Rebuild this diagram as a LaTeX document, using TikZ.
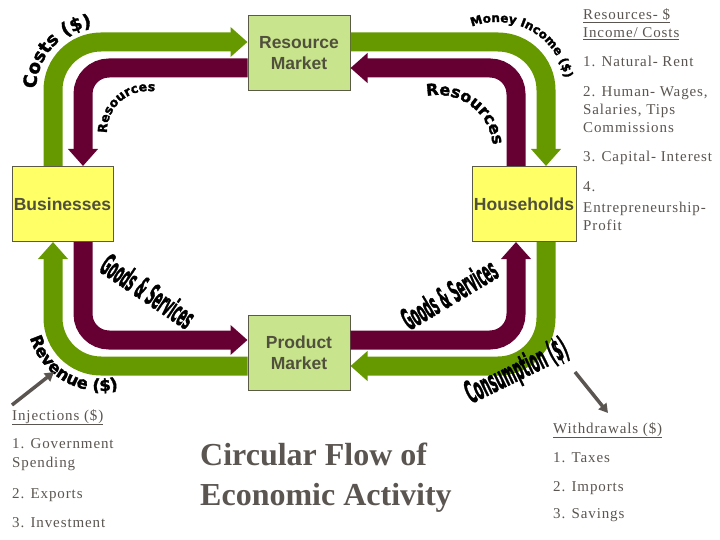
\documentclass[tikz,border=0pt]{standalone}
\usepackage{fontspec}
\setmainfont{Liberation Serif}
\newfontfamily\listfont{Liberation Serif}[LetterSpace=6]
\newfontfamily\boxfont{Liberation Sans}
\newfontfamily\artfont{DejaVu Sans}[BoldFeatures={FakeBold=2}]
\usepackage{tikz}
\usetikzlibrary{arrows.meta, positioning, decorations.text}

\definecolor{flowgreen}{RGB}{102,153,0}
\definecolor{flowpurple}{RGB}{102,0,51}
\definecolor{mktfill}{RGB}{200,228,140}
\definecolor{firmfill}{RGB}{255,255,102}
\definecolor{boxline}{RGB}{90,90,70}
\definecolor{boxtext}{RGB}{80,80,60}
\definecolor{notegray}{RGB}{90,85,80}

\begin{document}
\begin{tikzpicture}[
  x=1pt, y=1pt,
  mktbox/.style={draw=boxline, line width=1pt, fill=mktfill,
                 minimum width=102pt, minimum height=75pt, inner sep=0pt,
                 align=center, text=boxtext,
                 font=\boxfont\bfseries\fontsize{17.5}{21}\selectfont},
  agentbox/.style={mktbox, fill=firmfill, minimum width=101pt},
  greenflow/.style={draw=flowgreen, line width=19pt, rounded corners=48pt,
                    -{Triangle[width=29pt,length=17pt]}},
  purpleflow/.style={draw=flowpurple, line width=19pt, rounded corners=26pt,
                     -{Triangle[width=29pt,length=17pt]}},
  note/.style={anchor=base west, inner sep=0pt, text=notegray,
               font=\listfont\fontsize{15}{18}\selectfont},
  curvetxt/.style={decorate, decoration={text along path, text align=center, text={#1}}},
  art/.style={inner sep=0pt, font=\artfont\bfseries\fontsize{30}{30}\selectfont},
  pointer/.style={draw=notegray, line width=3.5pt, -{Triangle[width=10pt,length=9pt]}}
]
\useasboundingbox (0,0) rectangle (720,-540);

% Markets and agents
\node[mktbox] (rmkt) at (299,-53.5) {Resource\\Market};
\node[mktbox] (pmkt) at (299,-353) {Product\\Market};
\node[agentbox] (biz) at (62.5,-204) {Businesses};
\node[agentbox, minimum width=104pt] (hh) at (524,-204) {Households};

% Money flows
\draw[greenflow] ([xshift=-9.5pt]biz.north) |- ([yshift=11.5pt]rmkt.west);
\draw[greenflow] ([yshift=11.5pt]rmkt.east) -| ([xshift=22pt]hh.north);
\draw[greenflow] ([xshift=22pt]hh.south) |- ([yshift=-13pt]pmkt.east);
\draw[greenflow] ([yshift=-13pt]pmkt.west) -| ([xshift=-9.5pt]biz.south);

% Real flows
\draw[purpleflow] ([xshift=-8pt]hh.north) |- ([yshift=-14.5pt]rmkt.east);
\draw[purpleflow] ([yshift=-14.5pt]rmkt.west) -| ([xshift=20.5pt]biz.north);
\draw[purpleflow] ([xshift=20.5pt]biz.south) |- ([yshift=13pt]pmkt.west);
\draw[purpleflow] ([yshift=13pt]pmkt.east) -| ([xshift=-8pt]hh.south);

% Flow labels
\path[curvetxt={|\artfont\bfseries\fontsize{18}{18}\selectfont|Costs ({\$})}]
  (101,-91) ++(188:65) arc[start angle=188, end angle=88, radius=65];
\path[curvetxt={|\artfont\bfseries\fontsize{12.5}{12.5}\selectfont|Resources}]
  (148,-132) ++(188:41) arc[start angle=188, end angle=74, radius=41];
\path[curvetxt={|\artfont\bfseries\fontsize{12}{12}\selectfont|Money Income ({\$})}]
  (497,-91) ++(118:69) arc[start angle=118, end angle=4, radius=69];
\path[curvetxt={|\artfont\bfseries\fontsize{16}{16}\selectfont|Resources}]
  (438,-150) ++(108:55) arc[start angle=108, end angle=-1, radius=55];
\path[curvetxt={|\artfont\bfseries\fontsize{16.5}{16.5}\selectfont|Revenue ({\$})}]
  (101,-317) ++(188:74) arc[start angle=188, end angle=292, radius=74];

\node[rotate=-34, art] (gsleft) at (148,-291) {\scalebox{0.36}[1]{Goods \& Services}};
\node[rotate=31, art] (gsright) at (449,-294) {\scalebox{0.36}[1]{Goods \& Services}};
\node[rotate=26, art, font=\artfont\bfseries\fontsize{31}{31}\selectfont] (cons)
  at (517,-372) {\scalebox{0.38}[1]{Consumption (\$)}};

% Injection / withdrawal pointers
\coordinate (injtail) at (12,-405);
\coordinate (injtip) at (54,-372);
\coordinate (wdtail) at (575,-372);
\coordinate (wdtip) at (608,-413);
\draw[pointer] (injtail) -- (injtip);
\draw[pointer] (wdtail) -- (wdtip);

% Factor payments
\node[note] (rhead) at (583,-20) {\underline{Resources- \$}};
\node[note] (rhead2) at (583,-38) {\underline{Income/ Costs}};
\node[note] (r1) at (583,-67) {1. Natural- Rent};
\node[note] (r2) at (583,-97) {2. Human- Wages,};
\node[note] (r2b) at (583,-115) {Salaries, Tips};
\node[note] (r2c) at (583,-133) {Commissions};
\node[note] (r3) at (583,-162) {3. Capital- Interest};
\node[note] (r4) at (583,-192) {4.};
\node[note] (r4b) at (583,-212) {Entrepreneurship-};
\node[note] (r4c) at (583,-230) {Profit};

% Injections
\node[note] (ihead) at (12,-420) {\underline{Injections (\$)}};
\node[note] (i1) at (12,-448) {1. Government};
\node[note] (i1b) at (12,-467) {Spending};
\node[note] (i2) at (12,-498) {2. Exports};
\node[note] (i3) at (12,-527) {3. Investment};

% Withdrawals
\node[note] (whead) at (553,-433) {\underline{Withdrawals (\$)}};
\node[note] (w1) at (553,-462) {1. Taxes};
\node[note] (w2) at (553,-491) {2. Imports};
\node[note] (w3) at (553,-518) {3. Savings};

% Title
\node[anchor=base west, inner sep=0pt, text=notegray,
      font=\bfseries\fontsize{32}{40}\selectfont] (title1) at (200,-465) {Circular Flow of};
\node[anchor=base west, inner sep=0pt, text=notegray,
      font=\bfseries\fontsize{32}{40}\selectfont] (title2) at (200,-505) {Economic Activity};

\end{tikzpicture}
\end{document}
